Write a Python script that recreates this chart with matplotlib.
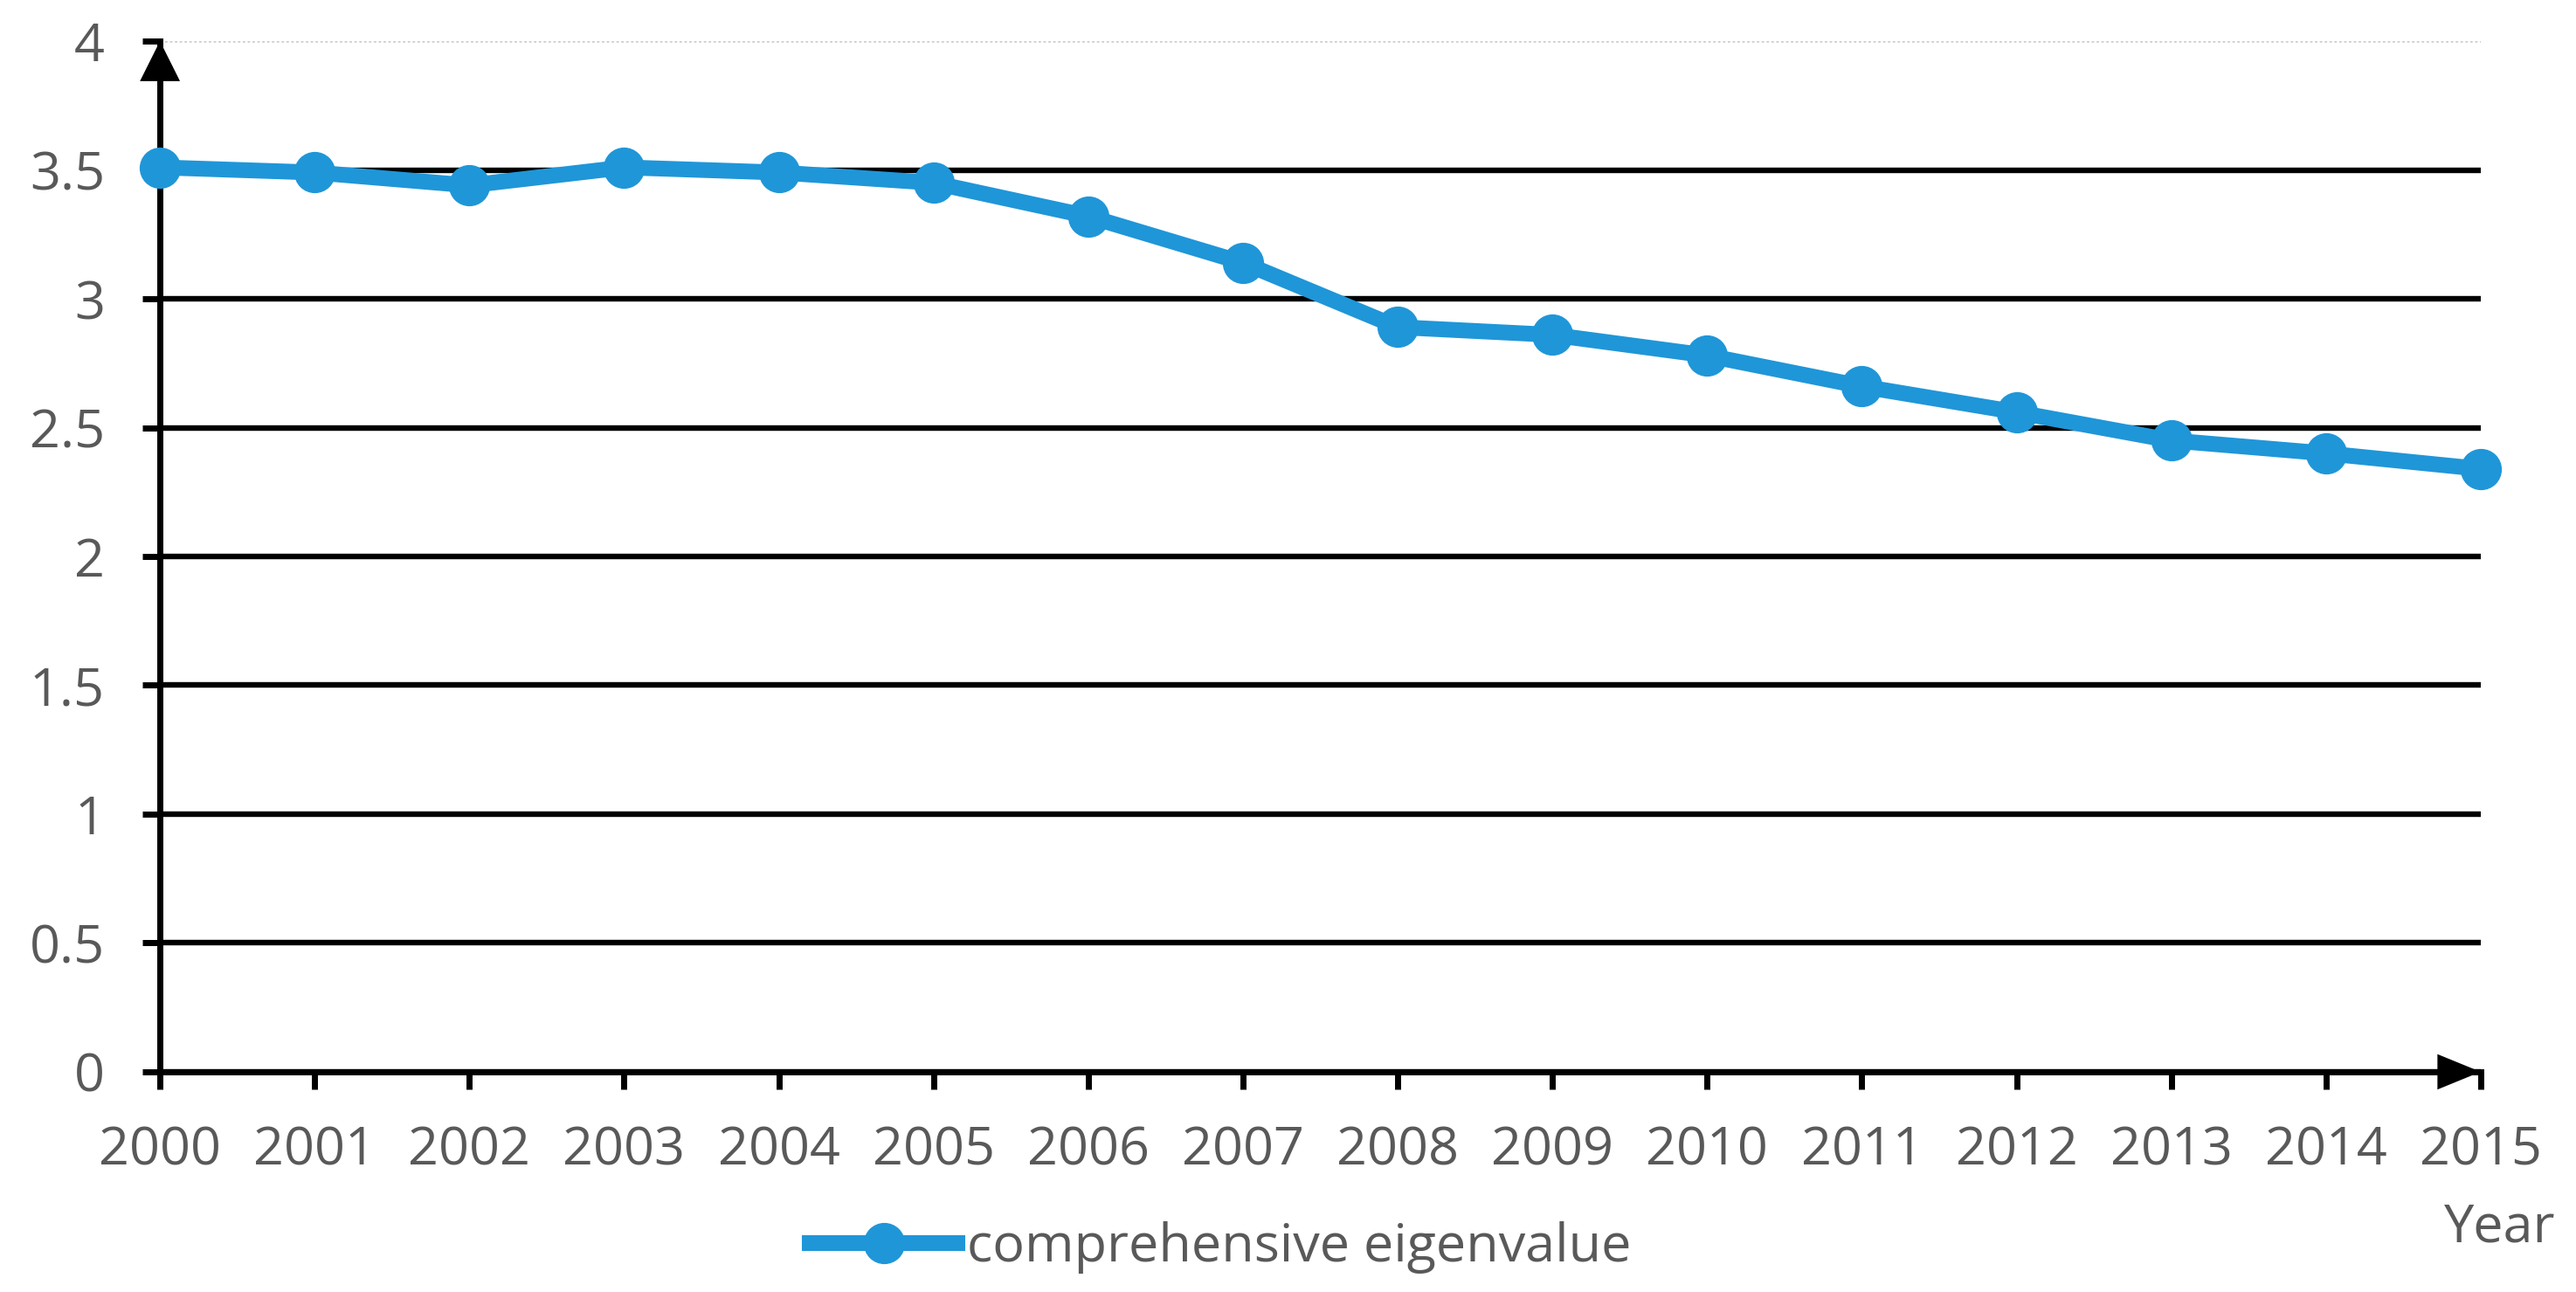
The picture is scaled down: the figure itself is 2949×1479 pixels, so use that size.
import matplotlib
matplotlib.use('Agg')
import matplotlib.pyplot as plt

# data
years = [2000, 2001, 2002, 2003, 2004, 2005, 2006, 2007,
         2008, 2009, 2010, 2011, 2012, 2013, 2014, 2015]
values = [3.51, 3.49, 3.44, 3.51, 3.49, 3.45, 3.32, 3.14,
          2.89, 2.86, 2.78, 2.66, 2.56, 2.45, 2.40, 2.34]
y_ticks = [0, 0.5, 1, 1.5, 2, 2.5, 3, 3.5, 4]
y_labels = ['0', '0.5', '1', '1.5', '2', '2.5', '3', '3.5', '4']
series_name = 'comprehensive eigenvalue'
x_name = 'Year'

plt.rcParams['font.family'] = ['Open Sans', 'DejaVu Sans']
grey = '#595959'
blue = '#1f96d8'
fs = 44

fig = plt.figure(figsize=(29.49, 14.79), dpi=100)
ax = fig.add_axes([0.0621, 0.1704, 0.9009, 0.7978])

ax.plot(years, values, color=blue, lw=13, marker='o', ms=33,
        clip_on=False, zorder=5, label=series_name)

ax.set_xlim(years[0], years[-1])
ax.set_ylim(y_ticks[0], y_ticks[-1])
ax.set_xticks(years)
ax.set_xticklabels([str(y) for y in years])
ax.set_yticks(y_ticks)
ax.set_yticklabels(y_labels)

ax.tick_params(axis='both', direction='out', length=14.5, width=5,
               color='black', labelcolor=grey, labelsize=fs)
ax.tick_params(axis='x', pad=29)
ax.tick_params(axis='y', pad=31)

ax.yaxis.grid(True, color='black', lw=4.6)
ax.set_axisbelow(True)
top_grid = ax.get_ygridlines()[-1]
top_grid.set_color('#d0d0d0')
top_grid.set_linestyle((0, (1, 1)))
top_grid.set_linewidth(2)

for side in ['top', 'right']:
    ax.spines[side].set_visible(False)
for side in ['left', 'bottom']:
    ax.spines[side].set_linewidth(5)
    ax.spines[side].set_color('black')
    ax.spines[side].set_zorder(4)

# arrow heads on both axes
ax.annotate('', xy=(0, 1), xycoords='axes fraction', xytext=(0, 0.93),
            arrowprops=dict(arrowstyle='-|>,head_length=1.0,head_width=0.5',
                            mutation_scale=33, lw=0, color='black',
                            shrinkA=0, shrinkB=0), zorder=6)
ax.annotate('', xy=(1, 0), xycoords='axes fraction', xytext=(0.97, 0),
            arrowprops=dict(arrowstyle='-|>,head_length=1.15,head_width=0.47',
                            mutation_scale=31, lw=0, color='black',
                            shrinkA=0, shrinkB=0), zorder=6)

fig.text(2862 / 2949, 1 - 1406 / 1479, x_name, ha='center', va='center',
         fontsize=fs, color=grey)

fig.legend(loc='center left', bbox_to_anchor=(927 / 2949, 1 - 1428 / 1479),
           frameon=False, fontsize=fs, labelcolor=grey, handlelength=2.77,
           handletextpad=0.18, borderpad=0, borderaxespad=0)

fig.savefig('out.png', dpi=100, facecolor='white')
